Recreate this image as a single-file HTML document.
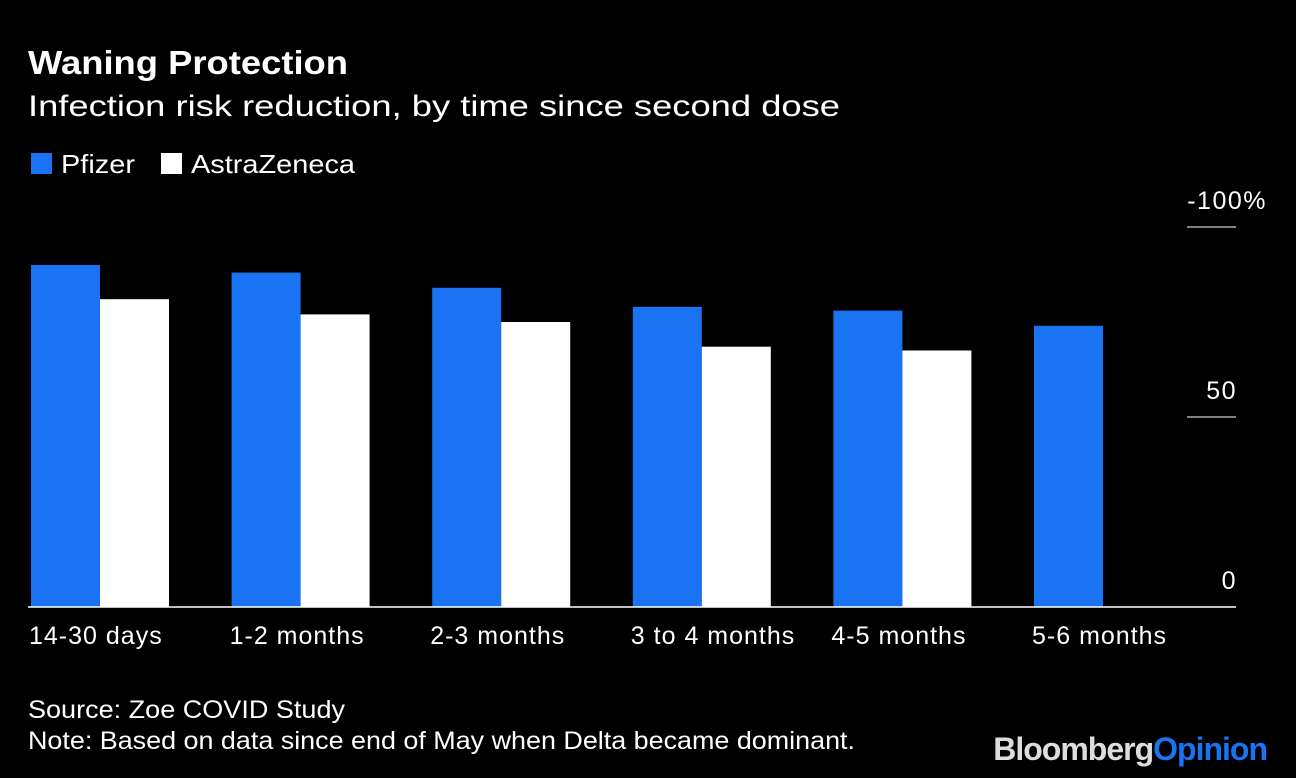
<!DOCTYPE html>
<html><head><meta charset="utf-8"><style>
body{margin:0;background:#000;width:1296px;height:778px;overflow:hidden;font-family:"Liberation Sans",sans-serif;color:#fff}
svg{position:absolute;left:0;top:0}
</style></head><body>
<svg width="1296" height="778">
<text x="28" y="74" font-size="33" font-weight="bold" fill="#fff" textLength="320" lengthAdjust="spacingAndGlyphs">Waning Protection</text>
<text x="28" y="116" font-size="30" fill="#fff" textLength="812" lengthAdjust="spacingAndGlyphs">Infection risk reduction, by time since second dose</text>
<g>
<rect x="31" y="153" width="21" height="21" fill="#1a73f2"/>
<text x="61" y="173" font-size="26" fill="#fff" textLength="74" lengthAdjust="spacingAndGlyphs">Pfizer</text>
<rect x="161" y="153" width="21" height="21" fill="#fff"/>
<text x="191" y="173" font-size="26" fill="#fff" textLength="164" lengthAdjust="spacingAndGlyphs">AstraZeneca</text>
</g>
<g id="plot"></g>
<text x="28" y="718" font-size="25" fill="#fff" textLength="317" lengthAdjust="spacingAndGlyphs">Source: Zoe COVID Study</text>
<text x="28" y="749" font-size="25" fill="#fff" textLength="827" lengthAdjust="spacingAndGlyphs">Note: Based on data since end of May when Delta became dominant.</text>
<text x="1267" y="760" font-size="32" font-weight="bold" text-anchor="end" letter-spacing="-1"><tspan fill="#ddd">Bloomberg</tspan><tspan fill="#1a73f2">Opinion</tspan></text>
</svg>
<script>
const categories=["14-30 days","1-2 months","2-3 months","3 to 4 months","4-5 months","5-6 months"];
const pfizer=[90,88,84,79,78,74];
const astra=[81,77,75,68.5,67.5,null];
const ticks=[0,50,100];
const tickLabels=["0","50","-100%"];
const NS="http://www.w3.org/2000/svg";
const g=document.getElementById('plot');
const y0=607,ppu=3.8;
const y=v=>y0-v*ppu;
const gx=i=>31+i*200.6;
const bw=69;
function mk(t,a){const e=document.createElementNS(NS,t);for(const k in a)e.setAttribute(k,a[k]);g.appendChild(e);return e;}
categories.forEach((c,i)=>{
 const p=mk('rect',{x:gx(i),y:y(pfizer[i]),width:bw,height:pfizer[i]*ppu,fill:'#1a73f2'});
 
 
 if(astra[i]!=null){
  const a=mk('rect',{x:gx(i)+bw,y:y(astra[i]),width:bw,height:astra[i]*ppu,fill:'#fff'});
  
  
 }
 const t=mk('text',{x:gx(i)-2,y:644,'font-size':25,fill:'#fff','letter-spacing':'1.0'});
 t.textContent=c;
 
 
});
ticks.forEach((v,i)=>{
 if(v>0){const l=mk('line',{x1:1187,x2:1236,y1:y(v),y2:y(v),stroke:'#fff','stroke-width':1});
 
 }
 const t=mk('text',{x:v===100?1267:1237,y:y(v)-18,'font-size':25,fill:'#fff','text-anchor':'end','letter-spacing':'1.5'});
 t.textContent=tickLabels[i];
 
 
});
const ax=mk('line',{x1:28,x2:1236,y1:y0,y2:y0,stroke:'#fff','stroke-width':1.5});


</script>
</body></html>
